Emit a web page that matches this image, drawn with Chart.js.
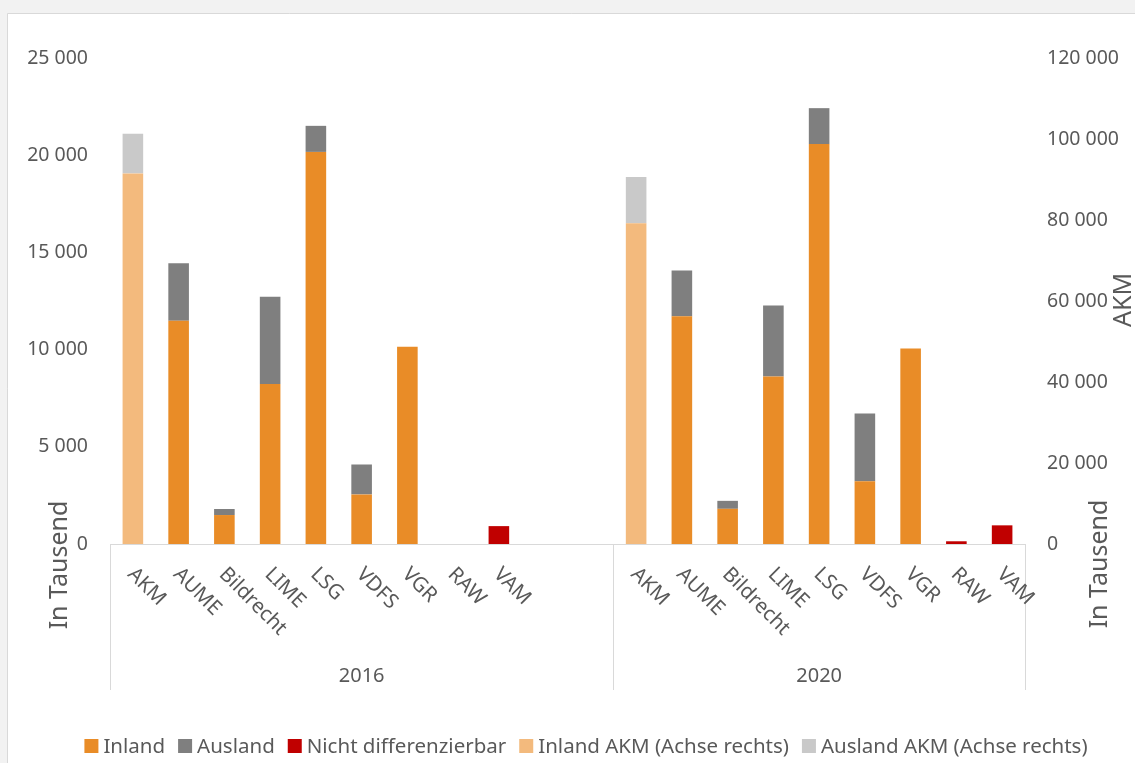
<!DOCTYPE html>
<html>
<head>
<meta charset="utf-8">
<script src="https://cdn.jsdelivr.net/npm/chart.js@4"></script>
<style>
  html, body { margin: 0; padding: 0; background: #f2f2f2; }
  #wrap { width: 1135px; height: 763px; }
</style>
</head>
<body>
<div id="wrap"><canvas id="barChart" width="1135" height="763"></canvas></div>
<script>
const CHART = document.getElementById('barChart')

// Kategorien je Jahr
const firms = ['AKM', 'AUME', 'Bildrecht', 'LIME', 'LSG', 'VDFS', 'VGR', 'RAW', 'VAM']
const years = ['2016', '2020']
const blanks2016 = ['', '']   // leere Plätze nach VAM im Jahr 2016

// linke Achse, in Tausend (AKM-Platz leer, AKM steht rechts)
const inland2016   = [null, 11480, 1490, 8230, 20170, 2550, 10150, null, null]
const ausland2016  = [null, 2960, 310, 4490, 1340, 1540, null, null, null]
const nichtDiff2016 = [null, null, null, null, null, null, null, null, 920]

const inland2020   = [null, 11720, 1810, 8610, 20570, 3230, 10060, null, null]
const ausland2020  = [null, 2350, 410, 3660, 1850, 3480, null, null, null]
const nichtDiff2020 = [null, null, null, null, null, null, null, 140, 960]

// rechte Achse, nur AKM
const inlandAKM  = [91500, 79200]
const auslandAKM = [9800, 11400]

const leftTicks = { max: 25000, step: 5000 }
const rightTicks = { max: 120000, step: 20000 }

const FONT = '"Noto Sans", sans-serif'
const TEXT = '#595959'
const LINE = '#d9d9d9'

const colors = {
    inland: '#E98C27',
    ausland: '#7F7F7F',
    nicht: '#C00000',
    inlandAKM: '#F3BA7D',
    auslandAKM: '#C9C9C9'
}

const pad = blanks2016.map(() => null)
const labels = [...firms, ...blanks2016, ...firms]
const join = (a, b) => [...a, ...pad, ...b]
const akmOnly = (arr) => {
    const a = firms.map(() => null), b = firms.map(() => null)
    a[0] = arr[0]; b[0] = arr[1]
    return join(a, b)
}

const fmt = (v) => String(v).replace(/\B(?=(\d{3})+(?!\d))/g, ' ')

const legendItems = [
    ['Inland', colors.inland],
    ['Ausland', colors.ausland],
    ['Nicht differenzierbar', colors.nicht],
    ['Inland AKM (Achse rechts)', colors.inlandAKM],
    ['Ausland AKM (Achse rechts)', colors.auslandAKM]
]

const decor = {
    id: 'decor',
    beforeDraw(chart) {
        const ctx = chart.ctx
        ctx.save()
        ctx.fillStyle = '#f2f2f2'
        ctx.fillRect(0, 0, chart.width, chart.height)
        ctx.fillStyle = '#ffffff'
        ctx.fillRect(8, 14, chart.width - 8, chart.height - 14)
        ctx.strokeStyle = LINE
        ctx.lineWidth = 1
        ctx.beginPath()
        ctx.moveTo(7.5, chart.height); ctx.lineTo(7.5, 13.5); ctx.lineTo(chart.width, 13.5)
        ctx.stroke()
        ctx.restore()
    },
    afterDraw(chart) {
        const ctx = chart.ctx
        const x = chart.scales.x
        const area = chart.chartArea
        ctx.save()

        // Trennlinien der Jahresgruppen
        const n2016 = firms.length + blanks2016.length
        const sep = (x.getPixelForValue(n2016 - 1) + x.getPixelForValue(n2016)) / 2
        const seps = [area.left, sep, area.right]
        ctx.strokeStyle = LINE
        ctx.lineWidth = 1
        seps.forEach(s => {
            ctx.beginPath()
            ctx.moveTo(Math.round(s) + 0.5, area.bottom)
            ctx.lineTo(Math.round(s) + 0.5, 690)
            ctx.stroke()
        })

        // Kategorienbeschriftung, 45 Grad
        ctx.fillStyle = TEXT
        ctx.font = '20.5px ' + FONT
        ctx.textAlign = 'left'
        ctx.textBaseline = 'middle'
        labels.forEach((lab, i) => {
            if (!lab) return
            const px = x.getPixelForValue(i)
            ctx.save()
            ctx.translate(px - 2, area.bottom + 27)
            ctx.rotate(Math.PI / 4)
            ctx.fillText(lab, 0, 0)
            ctx.restore()
        })

        // Jahre
        ctx.textAlign = 'center'
        ctx.font = '20px ' + FONT
        ctx.fillText(years[0], (seps[0] + seps[1]) / 2, 676)
        ctx.fillText(years[1], (seps[1] + seps[2]) / 2, 676)

        // Achsentitel
        ctx.font = '25px ' + FONT
        const vText = (t, cx, cy) => {
            ctx.save()
            ctx.translate(cx, cy)
            ctx.rotate(-Math.PI / 2)
            ctx.textAlign = 'center'
            ctx.textBaseline = 'middle'
            ctx.fillText(t, 0, 0)
            ctx.restore()
        }
        vText('In Tausend', 60, 565)
        vText('In Tausend', 1100, 564)
        vText('AKM', 1124, 300)

        // Legende
        ctx.font = '20.5px ' + FONT
        ctx.textAlign = 'left'
        const box = 14, gap = 5, spacing = 13
        let total = 0
        legendItems.forEach(([t]) => { total += box + gap + ctx.measureText(t).width })
        total += spacing * (legendItems.length - 1)
        let lx = 586 - total / 2
        const ly = 746
        legendItems.forEach(([t, c]) => {
            ctx.fillStyle = c
            ctx.fillRect(lx, ly - box / 2, box, box)
            ctx.fillStyle = TEXT
            ctx.fillText(t, lx + box + gap, ly + 1)
            lx += box + gap + ctx.measureText(t).width + spacing
        })

        ctx.restore()
    }
}

const barDefaults = { barPercentage: 0.45, categoryPercentage: 1, borderWidth: 0 }

let barChart = new Chart(CHART, {
    type: 'bar',
    data: {
        labels: labels,
        datasets: [
            { ...barDefaults, label: 'Inland', data: join(inland2016, inland2020), backgroundColor: colors.inland, yAxisID: 'y' },
            { ...barDefaults, label: 'Ausland', data: join(ausland2016, ausland2020), backgroundColor: colors.ausland, yAxisID: 'y' },
            { ...barDefaults, label: 'Nicht differenzierbar', data: join(nichtDiff2016, nichtDiff2020), backgroundColor: colors.nicht, yAxisID: 'y' },
            { ...barDefaults, label: 'Inland AKM (Achse rechts)', data: akmOnly(inlandAKM), backgroundColor: colors.inlandAKM, yAxisID: 'y1' },
            { ...barDefaults, label: 'Ausland AKM (Achse rechts)', data: akmOnly(auslandAKM), backgroundColor: colors.auslandAKM, yAxisID: 'y1' }
        ]
    },
    options: {
        responsive: false,
        animation: false,
        layout: { padding: { top: 58, bottom: 0, left: 0, right: 0 } },
        plugins: {
            legend: { display: false },
            tooltip: { enabled: false }
        },
        scales: {
            x: {
                stacked: true,
                grid: { display: false, drawTicks: false },
                border: { display: true, color: LINE, width: 1 },
                ticks: { display: false },
                afterFit: (s) => { s.height = 219 }
            },
            y: {
                stacked: true,
                position: 'left',
                min: 0,
                max: leftTicks.max,
                grid: { display: false, drawTicks: false },
                border: { display: false },
                ticks: {
                    stepSize: leftTicks.step,
                    padding: 22,
                    color: TEXT,
                    font: { family: FONT, size: 19.5 },
                    callback: (v) => fmt(v)
                },
                afterFit: (s) => { s.width = 110 }
            },
            y1: {
                stacked: true,
                position: 'right',
                min: 0,
                max: rightTicks.max,
                grid: { display: false, drawTicks: false },
                border: { display: false },
                ticks: {
                    stepSize: rightTicks.step,
                    padding: 22,
                    color: TEXT,
                    font: { family: FONT, size: 19.5 },
                    callback: (v) => fmt(v)
                },
                afterFit: (s) => { s.width = 110 }
            }
        }
    },
    plugins: [decor]
})
</script>
</body>
</html>
